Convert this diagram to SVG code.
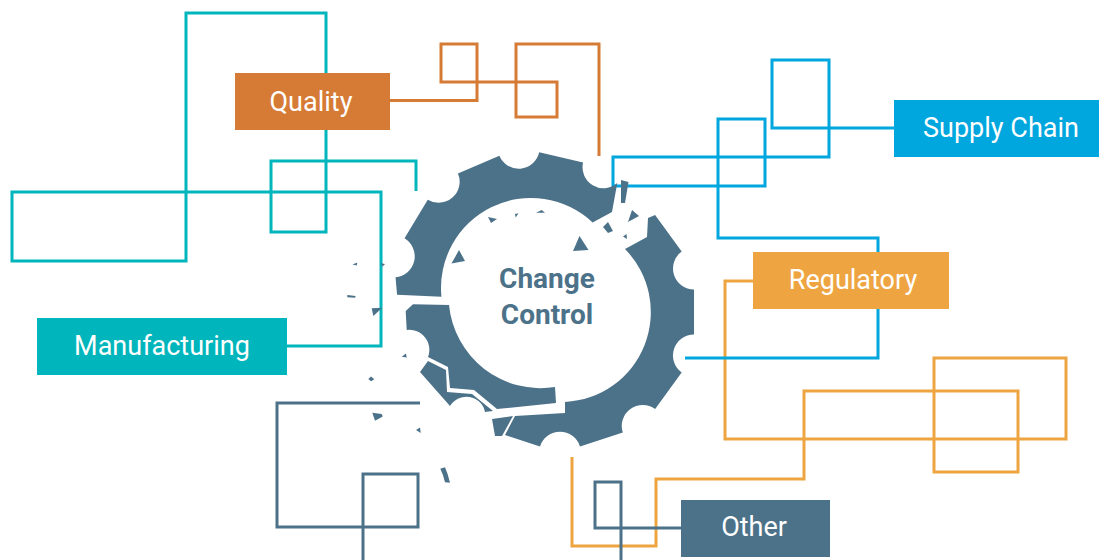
<svg xmlns="http://www.w3.org/2000/svg" width="1099" height="560" viewBox="0 0 1099 560">
<style>
.ln{fill:none;stroke-width:3;stroke-linejoin:miter;stroke-linecap:butt}
.teal{stroke:#00B5BB}
.org{stroke:#D67B35}
.blu{stroke:#00A6DE}
.yel{stroke:#EEA541}
.sla{stroke:#4C7289}
.gear{fill:#4C7289}
.lbl{font-family:Roboto,"Liberation Sans",sans-serif;font-size:27px;fill:#ffffff;text-anchor:middle}
.cc{font-family:Roboto,"Liberation Sans",sans-serif;font-size:28px;font-weight:bold;fill:#4C7289;text-anchor:middle}
</style>
<rect width="1099" height="560" fill="#ffffff"/>
<g id="connectors">
<path class="ln teal" d="M287,346 H381 V192 H12 V261 H186 V13 H326 V232 H271 V161 H416 V191"/>
<path class="ln org" d="M390,100.5 H477 V44 H441 V82 H557 V117 H516 V44 H599 V156"/>
<path class="ln yel" d="M753,281 H725 V439 H1066 V358 H934 V472 H1018 V391 H804 V479 H656 V546 H572 V457"/>
<path class="ln blu" d="M894,128 H772 V60 H829 V157 H613 V186 H765 V119 H718 V238 H878 V358 H685"/>
<path class="ln sla" d="M681,528 H595 V482 H621 V560"/>
<path class="ln sla" d="M420,403 H277 V527 H418 V474 H363 V560"/>
</g>
<g id="change-control">
<path class="gear" d="M655.1,215 L681.7,251.5 A21,21 0 0 0 694,289.5 L694,334.5 A21,21 0 0 0 681.65,372.5 L655.15,409 A21,21 0 0 0 622.8,432.5 L580,446.4 A21,21 0 0 0 540,446.4 L505,435 L515,416 L565,413 L565,402 A90,90 0 0 0 625,249 L647,237 L648,218 Z"/>
<g transform="translate(531,288) rotate(-5) translate(-560,-312)">
<path class="gear" d="M426,307 L426,289.5 A21,21 0 0 0 438.35,251.5 L464.85,215 A21,21 0 0 0 497.2,191.5 L540,177.6 A21,21 0 0 0 580,177.6 L622.8,191.5 A21,21 0 0 0 655.1,215 L647.3,243.4 L627.1,252 A90,90 0 0 0 470,313 Z"/>
</g>
<path class="gear" d="M405.7,311 L413,304.3 L449,305 A92,92 0 0 0 555,387 L556,403 L497,409 L474,390 L450,388 L448,367 L428,357 A20,20 0 0 0 406.7,330 Z"/>
<path class="gear" d="M420,372 L428,361 L446,370 L447,392 L472,394 L493,411 L485,412 A19,19 0 0 0 450,406 Z"/>
<g class="gear">
<polygon points="492,419 513,416 502,436 495,436"/>
<polygon points="621,180 628.5,182 625,203 621,203"/>
<polygon points="628,222 632,210 639,216"/>
<polygon points="603,227 608,222 613,231 608,233"/>
<polygon points="623,236.5 626.5,234 627,239"/>
<polygon points="573,251 579.5,236 588.5,250"/>
<polygon points="451.5,263.5 459,250 465,261"/>
<polygon points="488,217 497,219 491,223"/>
<polygon points="515,214 518.5,213.3 515.7,217.5"/>
<polygon points="536,212.7 541.7,210 545,212.7"/>
<polygon points="352.5,264.5 357.3,262.5 356.7,265.5"/>
<polygon points="380.7,263.3 385,264 382.7,266.5"/>
<polygon points="347.3,295 355.7,296 355,297.7 347.3,297.2"/>
<polygon points="371.7,308.3 382.3,307.7 373.3,316"/>
<polygon points="401.7,356.7 406,353.5 406.7,357.5"/>
<polygon points="368.3,379 371,376.5 374.3,379.3 371,381.3"/>
<polygon points="372.3,412.7 381.7,414 382.7,416.5 375,420.7"/>
<polygon points="416,430 420,427.5 420.7,433"/>
<path d="M440.3,468.7 L445,467.3 Q448,474 450,482.7 L445,482.3 Q443.5,475 440.3,468.7 Z"/>
</g>
<text class="cc" x="547" y="288">Change</text>
<text class="cc" x="547" y="324">Control</text>
</g>
<g id="quality">
<rect x="235" y="73" width="155" height="57" fill="#D67B35"/>
<text class="lbl" x="311" y="111">Quality</text>
</g>
<g id="supply-chain">
<rect x="894" y="100" width="205" height="57" fill="#00A6DE"/>
<text class="lbl" x="1001" y="137">Supply Chain</text>
</g>
<g id="regulatory">
<rect x="753" y="252" width="196" height="57" fill="#EEA541"/>
<text class="lbl" x="853" y="289">Regulatory</text>
</g>
<g id="manufacturing">
<rect x="37" y="318" width="250" height="57" fill="#00B5BB"/>
<text class="lbl" x="162" y="355">Manufacturing</text>
</g>
<g id="other">
<rect x="681" y="500" width="149" height="57" fill="#4C7289"/>
<text class="lbl" x="754" y="536">Other</text>
</g>
</svg>
